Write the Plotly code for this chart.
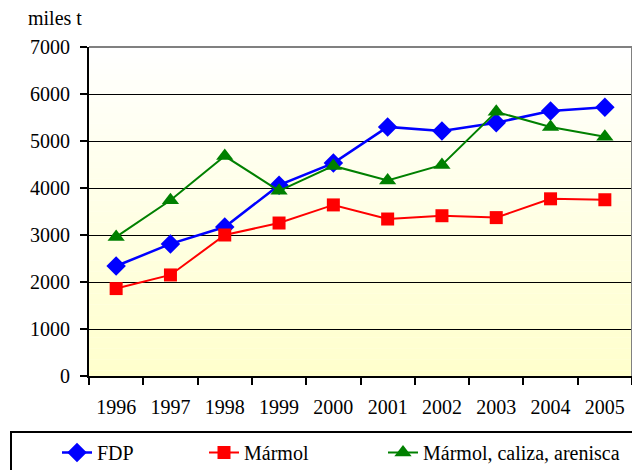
import plotly.graph_objects as go

years = ["1996", "1997", "1998", "1999", "2000", "2001", "2002", "2003", "2004", "2005"]
fdp = [2340, 2810, 3170, 4060, 4530, 5300, 5215, 5390, 5640, 5720]
marmol = [1860, 2150, 3000, 3255, 3640, 3340, 3410, 3370, 3770, 3750]
marmol_caliza_arenisca = [2960, 3740, 4680, 3940, 4470, 4160, 4490, 5620, 5300, 5090]

y_ticks = [0, 1000, 2000, 3000, 4000, 5000, 6000, 7000]
y_title = "miles t"

FONT = "Liberation Serif"

# the page body has an 8px margin: figure coords = screen coords - 8
L, T, W, H = 81, 39, 543, 329

fig = go.Figure()
fig.add_trace(go.Scatter(
    x=years, y=fdp, name="FDP", mode="lines+markers",
    line=dict(color="#0000FF", width=2.5),
    marker=dict(symbol="diamond", size=15, color="#0000FF"),
    legendwidth=102,
))
fig.add_trace(go.Scatter(
    x=years, y=marmol, name="Mármol", mode="lines+markers",
    line=dict(color="#FF0000", width=2),
    marker=dict(symbol="square", size=13, color="#FF0000"),
    legendwidth=134,
))
fig.add_trace(go.Scatter(
    x=years, y=marmol_caliza_arenisca, name="Mármol, caliza, arenisca", mode="lines+markers",
    line=dict(color="#008000", width=2),
    marker=dict(symbol="triangle-up", size=15, color="#008000"),
    legendwidth=215,
))

# vertical gradient background (white at top -> light yellow at bottom)
shapes = []
n = 60
top = (255, 255, 255)
bot = (255, 255, 204)
for i in range(n):
    t = (i + 0.5) / n
    c = tuple(round(top[k] + (bot[k] - top[k]) * t) for k in range(3))
    shapes.append(dict(
        type="rect", xref="x domain", yref="y domain",
        x0=0, x1=1, y0=1 - (i + 1) / n, y1=1 - i / n + 0.001,
        fillcolor="rgb(%d,%d,%d)" % c, line=dict(width=0), layer="below",
    ))
# gray frame on top and right
shapes.append(dict(type="line", xref="x domain", yref="y domain", x0=0, x1=1, y0=1, y1=1,
                   line=dict(color="#808080", width=2), layer="above"))
shapes.append(dict(type="line", xref="x domain", yref="y domain", x0=1, x1=1, y0=0, y1=1,
                   line=dict(color="#808080", width=2), layer="above"))

fig.update_layout(
    width=640, height=470,
    margin=dict(l=L, r=640 - L - W, t=T, b=470 - T - H, autoexpand=False),
    paper_bgcolor="white",
    plot_bgcolor="rgba(0,0,0,0)",
    font=dict(family=FONT, size=20, color="black"),
    shapes=shapes,
    showlegend=True,
    legend=dict(
        orientation="h",
        x=(2 - L) / W, xanchor="left",
        y=(T + H - 423) / H, yanchor="top",
        bordercolor="black", borderwidth=2,
        bgcolor="white",
        font=dict(family=FONT, size=20, color="black"),
        traceorder="normal",
        title=dict(text="\u00a0" * 7, side="left", font=dict(family=FONT, size=20)),
    ),
    annotations=[dict(
        text=y_title, xref="paper", yref="paper",
        x=(18 - L) / W, y=(T + H - 10) / H,
        xanchor="left", yanchor="middle", showarrow=False,
        font=dict(family=FONT, size=20, color="black"),
    )],
)
fig.update_xaxes(
    type="category", range=[-0.5, 9.5],
    showline=True, linecolor="black", linewidth=2,
    ticks="outside", tickson="boundaries", ticklen=7, tickwidth=1.5, tickcolor="black",
    ticklabelstandoff=12,
    showgrid=False, zeroline=False,
)
fig.update_yaxes(
    range=[0, 7000], tickvals=y_ticks,
    showline=True, linecolor="black", linewidth=2,
    ticks="outside", ticklen=7, tickwidth=1.5, tickcolor="black",
    ticklabelstandoff=6,
    showgrid=True, gridcolor="black", gridwidth=1.3,
    zeroline=False,
)

fig.write_html("out.html")
